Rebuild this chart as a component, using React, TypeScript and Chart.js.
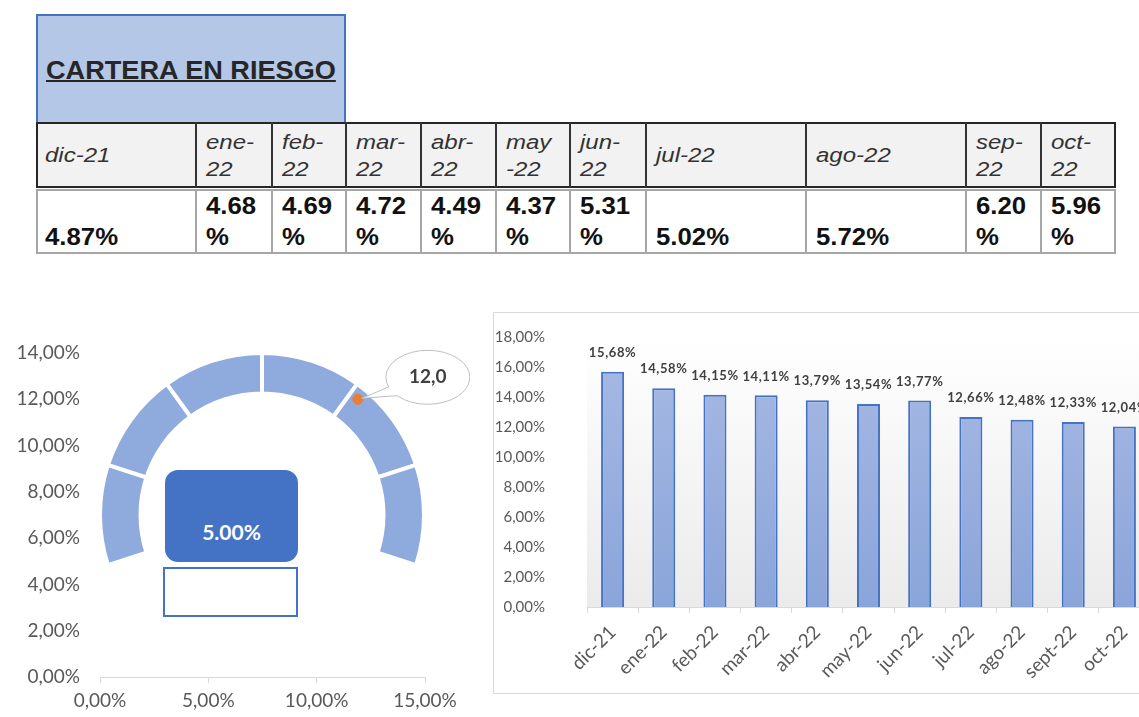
import React, { useEffect, useRef } from "react";
import { Chart, registerables } from "chart.js";

Chart.register(...registerables);

// ---------- DATA ----------
const months = ["dic-21", "ene-22", "feb-22", "mar-22", "abr-22", "may-22", "jun-22", "jul-22", "ago-22", "sept-22", "oct-22"];
const barValues = [15.68, 14.58, 14.15, 14.11, 13.79, 13.54, 13.77, 12.66, 12.48, 12.33, 12.04];

const tableTitle = "CARTERA EN RIESGO";
const tableHeaders = ["dic-21", "ene-\n22", "feb-\n22", "mar-\n22", "abr-\n22", "may\n-22", "jun-\n22", "jul-22", "ago-22", "sep-\n22", "oct-\n22"];
const tableValues = ["4.87%", "4.68\n%", "4.69\n%", "4.72\n%", "4.49\n%", "4.37\n%", "5.31\n%", "5.02%", "5.72%", "6.20\n%", "5.96\n%"];

const gaugeBands = [36, 36, 36, 36, 36, 36, 144];
const gaugeMarker = [{ x: 11.9, y: 12.0 }];
const gaugeMarkerLabel = "12,0";
const gaugeValueLabel = "5.00%";
const gaugeXMax = 15;
const gaugeXStep = 5;
const gaugeYMax = 14;
const gaugeYStep = 2;
const barYMax = 18;
const barYStep = 2;

// ---------- LAYOUT ----------
const colEdges = [36, 195, 271, 345, 420, 495, 569, 645, 805, 965, 1040, 1114];

const pct = (v: number) => v.toFixed(2).replace(".", ",") + "%";
const FONT = "Lato";

const plotBgPlugin = {
  id: "plotBg",
  beforeDatasetsDraw(chart: any) {
    const { ctx, chartArea } = chart;
    if (!chartArea) return;
    const g = ctx.createLinearGradient(0, chartArea.top, 0, chartArea.bottom);
    g.addColorStop(0, "#ffffff");
    g.addColorStop(1, "#ebebeb");
    ctx.save();
    ctx.fillStyle = g;
    ctx.fillRect(chartArea.left, chartArea.top, chartArea.right - chartArea.left, chartArea.bottom - chartArea.top);
    ctx.restore();
  },
};

const barLabelPlugin = {
  id: "barLabels",
  afterDatasetsDraw(chart: any) {
    const { ctx } = chart;
    const meta = chart.getDatasetMeta(0);
    ctx.save();
    ctx.font = `bold 13px ${FONT}`;
    try {
      (ctx as any).letterSpacing = "0.6px";
    } catch (e) {}
    ctx.fillStyle = "#404040";
    ctx.textAlign = "center";
    ctx.textBaseline = "middle";
    meta.data.forEach((el: any, i: number) => {
      ctx.fillText(pct(barValues[i]), el.x, el.y - 19);
    });
    ctx.restore();
  },
};

const calloutPlugin = {
  id: "callout",
  afterDatasetsDraw(chart: any) {
    const { ctx } = chart;
    const meta = chart.getDatasetMeta(0);
    const p = meta.data[0];
    if (!p) return;
    const cx = p.x + 70;
    const cy = p.y - 22;
    const rx = 42;
    const ry = 27;
    const a1 = (159 * Math.PI) / 180;
    const a2 = (137 * Math.PI) / 180;
    const A = { x: cx + rx * Math.cos(a1), y: cy + ry * Math.sin(a1) };
    const B = { x: cx + rx * Math.cos(a2), y: cy + ry * Math.sin(a2) };
    ctx.save();
    ctx.beginPath();
    ctx.ellipse(cx, cy, rx, ry, 0, 0, Math.PI * 2);
    ctx.fillStyle = "#ffffff";
    ctx.fill();
    ctx.strokeStyle = "#bfbfbf";
    ctx.lineWidth = 1;
    ctx.stroke();
    // tail
    ctx.beginPath();
    ctx.moveTo(p.x + 4, p.y - 1);
    ctx.lineTo(A.x, A.y);
    ctx.lineTo(cx - rx * 0.5, cy + ry * 0.2);
    ctx.lineTo(B.x, B.y);
    ctx.closePath();
    ctx.fillStyle = "#ffffff";
    ctx.fill();
    ctx.beginPath();
    ctx.moveTo(A.x, A.y);
    ctx.lineTo(p.x + 4, p.y - 1);
    ctx.lineTo(B.x, B.y);
    ctx.stroke();
    ctx.font = `bold 19px ${FONT}`;
    ctx.fillStyle = "#404040";
    ctx.textAlign = "center";
    ctx.textBaseline = "middle";
    ctx.fillText(gaugeMarkerLabel, cx, cy);
    ctx.restore();
  },
};

export default function App() {
  const gaugeRef = useRef<HTMLCanvasElement>(null);
  const scatterRef = useRef<HTMLCanvasElement>(null);
  const barRef = useRef<HTMLCanvasElement>(null);

  useEffect(() => {
    const gauge = new Chart(gaugeRef.current!, {
      type: "doughnut",
      data: {
        datasets: [
          {
            data: gaugeBands,
            backgroundColor: gaugeBands.map((_, i) => (i < gaugeBands.length - 1 ? "#8faadc" : "rgba(0,0,0,0)")),
            borderColor: "#ffffff",
            borderWidth: gaugeBands.map((_, i) => (i < gaugeBands.length - 1 ? 4 : 0)),
          },
        ],
      },
      options: {
        animation: false,
        responsive: false,
        devicePixelRatio: 1,
        rotation: -108,
        cutout: "75%",
        plugins: { legend: { display: false }, tooltip: { enabled: false } },
        events: [],
      },
    });

    const scatter = new Chart(scatterRef.current!, {
      type: "scatter",
      data: {
        datasets: [
          {
            data: gaugeMarker,
            backgroundColor: "#ed7d31",
            borderColor: "#ed7d31",
            pointRadius: 5,
          },
        ],
      },
      options: {
        animation: false,
        responsive: false,
        devicePixelRatio: 1,
        layout: { padding: { left: 0, right: 45, top: 23, bottom: 0 } },
        plugins: { legend: { display: false }, tooltip: { enabled: false } },
        events: [],
        scales: {
          x: {
            type: "linear",
            min: 0,
            max: gaugeXMax,
            ticks: {
              stepSize: gaugeXStep,
              callback: (v: any) => pct(Number(v)),
              font: { family: FONT, size: 19 },
              color: "#595959",
              padding: 6,
              maxRotation: 0,
            },
            grid: { drawOnChartArea: false, drawTicks: true, tickLength: 6, color: "#d9d9d9" },
            border: { display: true, color: "#d9d9d9" },
            afterFit: (s: any) => {
              s.height = 40;
            },
          },
          y: {
            type: "linear",
            min: 0,
            max: gaugeYMax,
            ticks: {
              stepSize: gaugeYStep,
              callback: (v: any) => pct(Number(v)),
              font: { family: FONT, size: 19 },
              color: "#595959",
              padding: 0,
            },
            grid: { display: false, drawTicks: true, tickLength: 20 },
            border: { display: false },
            afterFit: (s: any) => {
              s.width = 100;
            },
          },
        },
      },
      plugins: [calloutPlugin],
    });

    const bar = new Chart(barRef.current!, {
      type: "bar",
      data: {
        labels: months,
        datasets: [
          {
            data: barValues,
            backgroundColor: (c: any) => {
              const { chart } = c;
              const area = chart.chartArea;
              if (!area) return "#97addd";
              const g = chart.ctx.createLinearGradient(0, area.top, 0, area.bottom);
              g.addColorStop(0, "#a8bae3");
              g.addColorStop(1, "#8aa5da");
              return g;
            },
            borderColor: "#4472c4",
            borderWidth: 2,
            barPercentage: 0.45,
            categoryPercentage: 1,
          },
        ],
      },
      options: {
        animation: false,
        responsive: false,
        devicePixelRatio: 1,
        layout: { padding: { left: 0, right: 24, top: 24, bottom: 0 } },
        plugins: { legend: { display: false }, tooltip: { enabled: false } },
        events: [],
        scales: {
          x: {
            ticks: {
              font: { family: FONT, size: 19 },
              color: "#595959",
              minRotation: 45,
              maxRotation: 45,
              autoSkip: false,
              padding: 8,
            },
            grid: { drawOnChartArea: false, drawTicks: true, tickLength: 6, color: "#d9d9d9", offset: true },
            border: { display: true, color: "#d9d9d9" },
            afterFit: (s: any) => {
              s.height = 86;
            },
          },
          y: {
            min: 0,
            max: barYMax,
            ticks: {
              stepSize: barYStep,
              callback: (v: any) => pct(Number(v)),
              font: { family: FONT, size: 15 },
              color: "#595959",
              padding: 0,
            },
            grid: { display: false, drawTicks: true, tickLength: 42 },
            border: { display: false },
            afterFit: (s: any) => {
              s.width = 93;
            },
          },
        },
      },
      plugins: [plotBgPlugin, barLabelPlugin],
    });

    return () => {
      gauge.destroy();
      scatter.destroy();
      bar.destroy();
    };
  }, []);

  const abs = (l: number, t: number, w: number, h: number): React.CSSProperties => ({
    position: "absolute",
    left: l,
    top: t,
    width: w,
    height: h,
    boxSizing: "border-box",
  });

  return (
    <div style={{ position: "fixed", left: 0, top: 0, width: 1139, height: 717, overflow: "hidden", background: "#fff" }}>
      {/* Title cell */}
      <div style={{ ...abs(36, 14, 310, 110), background: "#b4c7e7", border: "2px solid #4472c4" }}>
        <div
          style={{
            position: "absolute",
            left: 8,
            top: 39,
            fontFamily: "Liberation Sans",
            fontWeight: 700,
            fontSize: 25,
            lineHeight: "30px",
            color: "#262626",
            textDecoration: "underline",
            textDecorationThickness: 2,
            whiteSpace: "nowrap",
            transform: "scaleX(1.085)",
            transformOrigin: "left center",
          }}
        >
          {tableTitle}
        </div>
      </div>

      {/* Header row */}
      <div style={{ ...abs(colEdges[0], 122, colEdges[colEdges.length - 1] - colEdges[0] + 2, 66), background: "#f2f2f2", border: "2px solid #262626" }} />
      {tableHeaders.map((h, i) => (
        <div
          key={"h" + i}
          style={{
            ...abs(colEdges[i], 122, colEdges[i + 1] - colEdges[i], 66),
            borderLeft: i > 0 ? "2px solid #333" : "none",
            display: "flex",
            alignItems: "center",
            paddingLeft: 9,
            paddingTop: 1,
          }}
        >
          <span
            style={{
              display: "inline-block",
              whiteSpace: "pre",
              fontFamily: "Liberation Sans",
              fontStyle: "italic",
              fontSize: 20,
              lineHeight: "27px",
              color: "#333",
              transform: "scaleX(1.2)",
              transformOrigin: "left center",
            }}
          >
            {h}
          </span>
        </div>
      ))}

      {/* Data row */}
      <div style={{ ...abs(colEdges[0], 189, colEdges[colEdges.length - 1] - colEdges[0] + 2, 65), background: "#fff", border: "2px solid #a6a6a6" }} />
      {tableValues.map((v, i) => (
        <div
          key={"v" + i}
          style={{
            ...abs(colEdges[i], 189, colEdges[i + 1] - colEdges[i], 65),
            borderLeft: i > 0 ? "2px solid #a6a6a6" : "none",
            display: "flex",
            alignItems: "flex-end",
            paddingLeft: 9,
            paddingBottom: 1,
          }}
        >
          <span
            style={{
              display: "inline-block",
              whiteSpace: "pre",
              fontFamily: "Liberation Sans",
              fontWeight: 700,
              fontSize: 23,
              lineHeight: "31px",
              color: "#111",
              transform: "scaleX(1.12)",
              transformOrigin: "left center",
            }}
          >
            {v}
          </span>
        </div>
      ))}

      {/* Gauge */}
      <canvas ref={gaugeRef} width={328} height={328} style={{ position: "absolute", left: 98, top: 351 }} />
      <div
        style={{
          ...abs(165, 470, 133, 92),
          background: "#4472c4",
          borderRadius: 13,
          color: "#fff",
          fontFamily: FONT,
          fontWeight: 700,
          fontSize: 21,
          textAlign: "center",
          paddingTop: 49,
          lineHeight: "26px",
        }}
      >
        {gaugeValueLabel}
      </div>
      <div style={{ ...abs(163, 567, 135, 50), background: "#fff", border: "2px solid #4472c4" }} />
      <canvas ref={scatterRef} width={470} height={387} style={{ position: "absolute", left: 0, top: 330, pointerEvents: "none" }} />

      {/* Bar chart */}
      <div style={{ ...abs(493, 312, 720, 382), border: "1px solid #d9d9d9", background: "#fff" }}>
        <canvas ref={barRef} width={680} height={380} style={{ position: "absolute", left: 0, top: 0 }} />
      </div>
    </div>
  );
}
